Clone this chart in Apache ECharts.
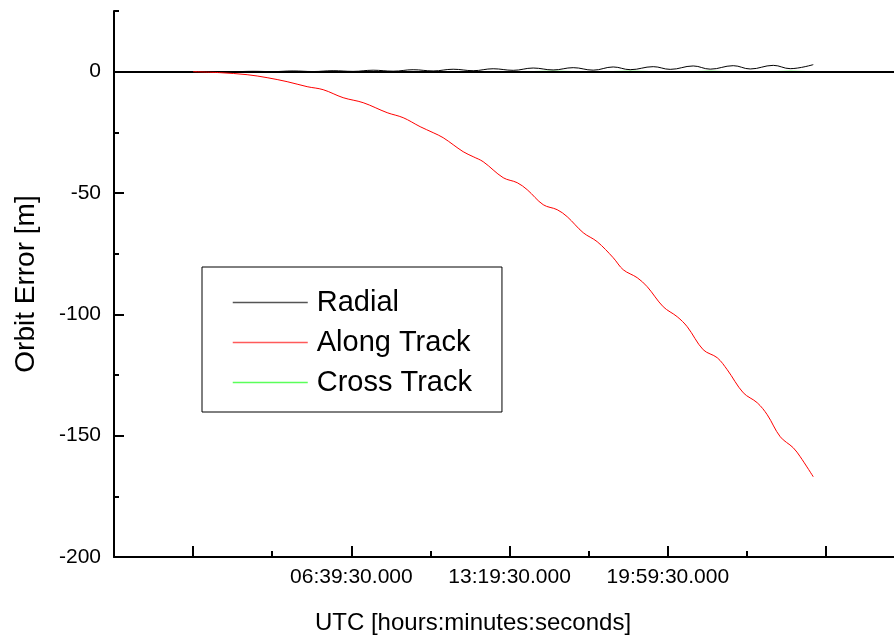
<!DOCTYPE html>
<html>
<head>
<meta charset="utf-8">
<title>Orbit Error</title>
<script src="https://cdn.jsdelivr.net/npm/echarts@6/dist/echarts.min.js"></script>
<style>
  html, body { margin: 0; padding: 0; background: #ffffff; }
  #chart { width: 894px; height: 637px; }
</style>
</head>
<body>
<div id="chart"></div>
<script>
// Elapsed time in seconds since 23:59:30 UTC (the axis origin)
const alongTime = [0, 4096, 8192, 11226, 14260, 17294, 19721, 22755, 25789, 29430, 31857, 34436,
  36408, 37925, 40959, 42476, 43993, 47027, 49151, 50668, 53095, 55219, 56736, 59163, 61287,
  63714, 65231, 67355, 68872, 71299, 73423, 74940, 77367, 79491, 81008, 83435, 85559, 87076,
  89048, 91020, 92082, 94054];
// Along-track error [m]
const alongErr = [0, -0.41, -1.24, -2.47, -4.12, -6.18, -7.42, -10.72, -12.78, -16.9, -18.96, -22.67,
  -25.14, -27.21, -32.98, -35.04, -37.1, -43.69, -45.75, -48.64, -54.82, -56.88, -59.77, -66.36, -70.07,
  -76.67, -81.62, -84.91, -88.62, -96.87, -100.99, -105.11, -114.59, -117.89, -122.83, -132.31, -136.44, -141.38,
  -150.45, -154.99, -158.7, -166.94];

const radialTime = [0, 3034, 6068, 9102, 12136, 15170, 18204, 21238, 24272, 27306, 30340, 33374,
  36408, 39442, 42476, 45510, 48544, 51578, 54612, 57646, 60680, 63714, 66293, 69782, 72361,
  75850, 78429, 81918, 84497, 87986, 90565, 94054];
// Radial error [m]
const radialErr = [0, 0.05, 0.0, 0.15, 0.02, 0.3, 0.05, 0.4, 0.12, 0.6, 0.2, 0.8,
  0.3, 1.0, 0.4, 1.2, 0.55, 1.5, 0.7, 1.65, 0.62, 1.94, 0.82, 2.06, 0.95,
  2.35, 1.03, 2.47, 1.11, 2.6, 1.24, 2.9];

const crossTime = [0, 6068, 12136, 18204, 24272, 30340, 36408, 42476, 48544, 54612, 60680,
  66293, 72361, 78429, 84497, 90565, 94054];
// Cross-track error [m]
const crossErr = [0, 0.03, -0.04, 0.05, -0.05, 0.06, -0.06, 0.07, -0.07, 0.08, -0.08,
  0.09, -0.09, 0.1, -0.1, 0.1, -0.05];

const timeMajorTicks = [0, 24000, 48000, 72000, 96000];
const timeMinorTicks = [12000, 36000, 60000, 84000];
const timeLabelTicks = [24000, 48000, 72000];
const errMajorTicks = [-200, -150, -100, -50, 0];
const errMinorTicks = [-175, -125, -75, -25, 25];

const TIME_ORIGIN = 86370; // 23:59:30 expressed in seconds of day
const FONT = "'Liberation Sans', Arial, Helvetica, sans-serif";

function pad2(n) { return (n < 10 ? '0' : '') + n; }
function hms(v) {
  let s = Math.round(v + TIME_ORIGIN) % 86400;
  const h = Math.floor(s / 3600); s -= h * 3600;
  const m = Math.floor(s / 60); s -= m * 60;
  return pad2(h) + ':' + pad2(m) + ':' + pad2(s) + '.000';
}
function zip(xs, ys) { return xs.map((x, i) => [x, ys[i]]); }

const X_MIN = -12000, X_MAX = 106300, Y_MIN = -200, Y_MAX = 25;

const chart = echarts.init(document.getElementById('chart'), null, { renderer: 'canvas' });
chart.setOption({
  animation: false,
  backgroundColor: '#ffffff',
  textStyle: { fontFamily: FONT },
  grid: { left: 114, right: 0, top: 11, bottom: 80, containLabel: false, outerBoundsMode: 'none' },
  legend: {
    orient: 'vertical',
    left: 202, top: 267,
    data: [
      { name: 'Radial', lineStyle: { color: '#555555' } },
      { name: 'Along Track', lineStyle: { color: '#ff5a5a' } },
      { name: 'Cross Track', lineStyle: { color: '#5aff5a' } }
    ],
    itemWidth: 75, itemHeight: 26, itemGap: 11,
    padding: [21, 30, 15, 30],
    borderColor: '#000', borderWidth: 1,
    selectedMode: false,
    itemStyle: { opacity: 0 },
    lineStyle: { width: 1.5 },
    textStyle: { fontFamily: FONT, fontSize: 29, color: '#000', padding: [0, 0, 0, 4] }
  },
  xAxis: [
    {
      type: 'value', min: X_MIN, max: X_MAX,
      name: 'UTC [hours:minutes:seconds]', nameLocation: 'middle', nameGap: 54,
      nameTextStyle: { fontFamily: FONT, fontSize: 24, color: '#000', padding: [0, 62, 0, 0] },
      axisLine: { show: true, onZero: false, lineStyle: { color: '#000', width: 2 } },
      axisTick: { show: true, inside: true, length: 11, lineStyle: { color: '#000', width: 2 }, customValues: timeMajorTicks },
      axisLabel: { show: true, margin: 10, fontFamily: FONT, fontSize: 21, color: '#000', customValues: timeLabelTicks, formatter: hms },
      splitLine: { show: false }
    },
    {
      type: 'value', min: X_MIN, max: X_MAX, position: 'bottom',
      axisLine: { show: false, onZero: false },
      axisTick: { show: true, inside: true, length: 6, lineStyle: { color: '#000', width: 2 }, customValues: timeMinorTicks },
      axisLabel: { show: false },
      splitLine: { show: false }
    }
  ],
  yAxis: [
    {
      type: 'value', min: Y_MIN, max: Y_MAX,
      name: 'Orbit Error [m]', nameLocation: 'middle', nameGap: 74, nameRotate: 90,
      nameTextStyle: { fontFamily: FONT, fontSize: 28, color: '#000' },
      axisLine: { show: true, onZero: false, lineStyle: { color: '#000', width: 2 } },
      axisTick: { show: true, inside: true, length: 10, lineStyle: { color: '#000', width: 2 }, customValues: errMajorTicks },
      axisLabel: { show: true, margin: 13, fontFamily: FONT, fontSize: 21, color: '#000', customValues: errMajorTicks },
      splitLine: { show: false }
    },
    {
      type: 'value', min: Y_MIN, max: Y_MAX, position: 'left',
      axisLine: { show: false, onZero: false },
      axisTick: { show: true, inside: true, length: 5, lineStyle: { color: '#000', width: 2 }, customValues: errMinorTicks },
      axisLabel: { show: false },
      splitLine: { show: false }
    }
  ],
  series: [
    {
      // zero reference line across the plot
      name: 'zero', type: 'line', data: [], z: 1, silent: true,
      markLine: {
        silent: true, symbol: 'none', label: { show: false },
        lineStyle: { color: '#000', width: 2, type: 'solid' },
        data: [{ yAxis: 0 }]
      }
    },
    {
      name: 'Cross Track', type: 'line', data: zip(crossTime, crossErr),
      symbol: 'none', smooth: 0.4, z: 3,
      lineStyle: { color: '#00ff00', width: 1.2 }, itemStyle: { color: '#00ff00' }
    },
    {
      name: 'Radial', type: 'line', data: zip(radialTime, radialErr),
      symbol: 'none', smooth: 0.4, z: 4,
      lineStyle: { color: '#000000', width: 1 }, itemStyle: { color: '#000000' }
    },
    {
      name: 'Along Track', type: 'line', data: zip(alongTime, alongErr),
      symbol: 'none', smooth: 0.35, z: 5,
      lineStyle: { color: '#ff0000', width: 1 }, itemStyle: { color: '#ff0000' }
    }
  ]
});
</script>
</body>
</html>
